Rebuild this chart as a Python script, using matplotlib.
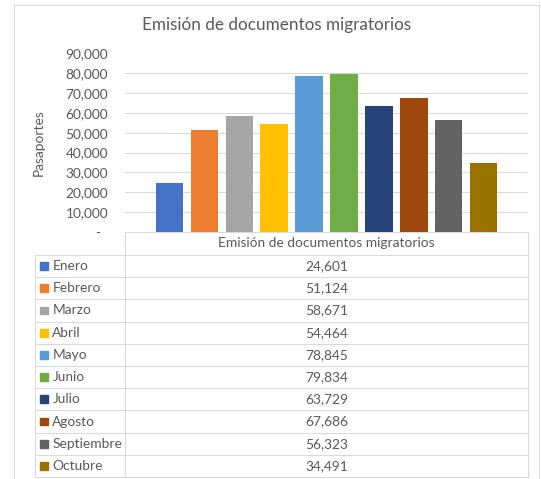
import matplotlib
matplotlib.use("Agg")
import matplotlib.pyplot as plt
from matplotlib.patches import Rectangle

# ---- data ----
meses = ["Enero", "Febrero", "Marzo", "Abril", "Mayo", "Junio", "Julio",
         "Agosto", "Septiembre", "Octubre"]
valores = [24601, 51124, 58671, 54464, 78845, 79834, 63729, 67686, 56323, 34491]
colores = ["#4472C4", "#ED7D31", "#A5A5A5", "#FFC000", "#5B9BD5", "#70AD47",
           "#264478", "#9E480E", "#636363", "#997300"]
titulo = "Emisión de documentos migratorios"
serie = "Emisión de documentos migratorios"
ylabel = "Pasaportes"
yticks = [0, 10000, 20000, 30000, 40000, 50000, 60000, 70000, 80000, 90000]

plt.rcParams['font.family'] = ['Lato', 'DejaVu Sans']
TXT = "#595959"
GRID = "#d9d9d9"
FS = 9.9

W, H = 541, 479
fig = plt.figure(figsize=(W / 100, H / 100), dpi=100)

# overlay axes in pixel coordinates
ov = fig.add_axes([0, 0, 1, 1])
ov.set_xlim(0, W)
ov.set_ylim(H, 0)
ov.axis("off")

# plot area geometry (pixels)
pl, pr = 125, 528
ptop, pbot = 53.5, 231.7
ax = fig.add_axes([pl / W, (H - pbot) / H, (pr - pl) / W, (pbot - ptop) / H])
ax.set_xlim(0, 1)
ax.set_ylim(0, 90000)

n = len(valores)
pitch = 34.9 / (pr - pl)
bw = 27.5 / (pr - pl)
xs = [0.5 + (i - (n - 1) / 2) * pitch for i in range(n)]
ax.bar(xs, valores, width=bw, color=colores, zorder=3)

ax.set_yticks(yticks)
ax.set_yticklabels([f"{v:,}" if v else "-  " for v in yticks])
ax.tick_params(axis="y", length=0, pad=12.2, labelsize=FS, labelcolor=TXT)
ax.tick_params(axis="x", bottom=False, labelbottom=False)
ax.grid(axis="y", color=GRID, linewidth=0.75, zorder=0)
for s in ["top", "right", "left"]:
    ax.spines[s].set_visible(False)
ax.spines["bottom"].set_color(GRID)
ax.spines["bottom"].set_linewidth(0.75)

# axis title
ov.text(39, 143, ylabel, rotation=90, ha="center", va="center",
        fontsize=FS, color=TXT)

# title (centered on the chart area)
ov.text((14 + 539) / 2, 25, titulo, ha="center", va="center",
        fontsize=12.3, color=TXT)

# outer border
lw = 0.75
ov.plot([14, 14], [5, H], color=GRID, lw=lw)
ov.plot([539, 539], [5, H], color=GRID, lw=lw)
ov.plot([14, 539], [5, 5], color=GRID, lw=lw)

# data table
tl = 35
row0 = 255
rh = 22.2
tb = row0 + n * rh
ov.plot([pl, pl], [pbot, tb], color=GRID, lw=lw)
ov.plot([pr, pr], [pbot, tb], color=GRID, lw=lw)
ov.plot([tl, tl], [row0, tb], color=GRID, lw=lw)
for k in range(n + 1):
    y = row0 + k * rh
    ov.plot([tl, pr], [y, y], color=GRID, lw=lw)
ov.text((pl + pr) / 2, (pbot + row0) / 2, serie, ha="center", va="center",
        fontsize=FS, color=TXT)
for i, (m, v, c) in enumerate(zip(meses, valores, colores)):
    yc = row0 + (i + 0.5) * rh
    ov.add_patch(Rectangle((40, yc - 3.9), 7.7, 7.7, color=c))
    ov.text(52.3, yc, m, ha="left", va="center", fontsize=FS, color=TXT)
    ov.text((pl + pr) / 2, yc, f"{v:,}", ha="center", va="center",
            fontsize=FS, color=TXT)

fig.savefig("out.png", dpi=100)
